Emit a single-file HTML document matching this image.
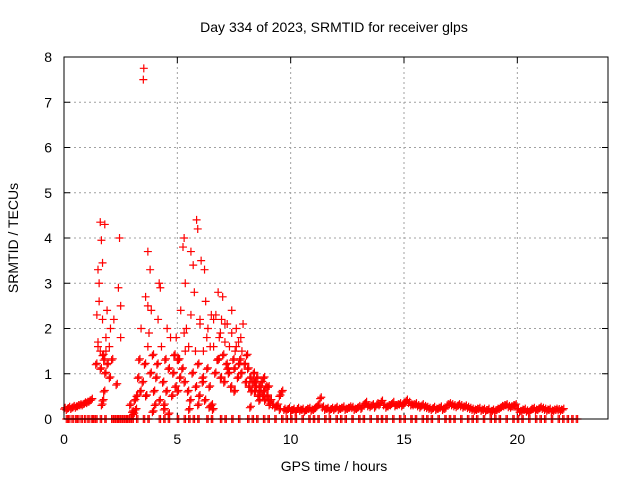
<!DOCTYPE html>
<html><head><meta charset="utf-8">
<style>
body{margin:0;background:#fff;}
svg{display:block;font-family:"Liberation Sans",sans-serif;}
</style></head>
<body>
<svg id="chart" width="640" height="480" viewBox="0 0 640 480">
<text x="334" y="32" font-size="14" text-anchor="middle">Day 334 of 2023, SRMTID for receiver glps</text>
<text x="334" y="471" font-size="14" text-anchor="middle">GPS time / hours</text>
<text transform="translate(18,238) rotate(-90)" font-size="14" text-anchor="middle">SRMTID / TECUs</text>
<g id="grid"></g>
<g id="ticks"></g>
<g id="marks"></g>
<rect x="64" y="57" width="544" height="362" fill="none" stroke="#000" stroke-width="1"/>
</svg>
<script>
const xTicks=[0,5,10,15,20];
const yTicks=[0,1,2,3,4,5,6,7,8];
const times=[0,0.1,0.2,0.3,0.4,0.5,0.6,0.7,0.8,0.9,1.0,1.1,1.2,
1.4,1.45,1.5,1.5,1.55,1.6,1.6,1.65,1.7,1.7,1.75,1.8,1.8,1.85,1.9,1.9,2.0,2.0,2.05,2.1,2.2,2.3,2.4,2.45,1.5,1.55,1.6,1.7,1.75,1.85,2.5,2.5,1.65,1.7,
2.9,3.0,3.05,3.1,3.15,3.2,3.25,3.3,3.35,3.4,3.45,3.5,3.52,3.55,3.6,3.6,3.7,3.7,3.75,3.8,3.8,3.85,3.9,3.95,4.0,4.05,4.1,4.15,4.2,4.25,4.3,4.35,4.4,4.45,4.5,4.55,4.6,3.6,3.7,3.9,4.2,4.4,4.6,
4.7,4.75,4.8,4.85,4.9,4.95,5.0,5.05,5.1,5.15,5.2,5.25,5.3,5.3,5.35,5.4,5.45,5.5,5.55,5.6,5.65,5.7,5.75,5.8,5.85,5.9,5.95,6.0,6.05,6.1,6.15,6.2,6.25,6.3,6.35,6.4,6.45,6.5,5.3,5.35,5.6,5.8,5.9,6.0,6.1,6.2,6.3,6.5,5.0,5.5,5.9,6.4,
6.55,6.6,6.65,6.7,6.75,6.8,6.85,6.9,6.95,7.0,7.05,7.1,7.15,7.2,7.25,7.3,7.35,7.4,7.45,7.5,7.55,7.6,7.65,7.7,7.75,7.8,7.85,7.9,7.95,8.0,6.8,6.9,7.0,7.2,7.4,7.6,7.8,6.6,7.1,7.5,7.7,
8.05,8.1,8.15,8.2,8.25,8.3,8.35,8.4,8.45,8.5,8.55,8.6,8.65,8.7,8.75,8.8,8.85,8.9,8.95,9.0,9.05,9.1,9.2,9.3,9.4,9.5,8.2,8.4,8.6,8.8,9.0,9.5,
9.6,9.7,9.8,9.9,10.0,10.1,10.2,10.3,10.4,10.5,10.6,10.7,10.8,10.9,11.0,11.1,11.2,11.3,11.4,11.5,11.6,11.7,11.8,11.9,12.0,12.1,12.2,12.3,12.4,12.5,12.6,12.7,12.8,12.9,13.0,13.1,13.2,13.3,13.4,13.5,13.6,13.7,13.8,13.9,14.0,14.1,14.2,14.3,14.4,14.5,14.6,14.7,14.8,14.9,15.0,15.1,15.2,15.3,15.4,15.5,15.6,15.7,15.8,15.9,16.0,16.1,16.2,16.3,16.4,16.5,16.6,16.7,16.8,16.9,17.0,17.1,17.2,17.3,17.4,17.5,17.6,17.7,17.8,17.9,18.0,18.1,18.2,18.3,18.4,18.5,18.6,18.7,18.8,18.9,19.0,19.1,19.2,19.3,19.4,19.5,19.6,19.7,19.8,19.9,20.0,20.1,20.2,20.3,20.4,20.5,20.6,20.7,20.8,20.9,21.0,21.1,21.2,21.3,21.4,21.5,21.6,21.7,21.8,21.9,22.0,22.1,22.2,22.3,22.4,22.5,22.6,22.7,22.8,22.9];
const values=[0.22,0.2,0.24,0.22,0.26,0.25,0.28,0.3,0.3,0.34,0.35,0.38,0.42,
1.2,2.3,3.3,1.6,2.6,4.35,1.5,3.95,1.4,2.2,1.3,4.3,1.0,1.8,2.4,1.2,1.6,0.9,2.0,1.3,2.2,0.75,2.9,4.0,1.7,3.0,1.1,3.45,0.6,1.5,2.5,1.8,0.3,0.4,
0.3,0.15,0.1,0.4,0.2,0.5,0.9,1.3,0.6,2.0,0.8,7.5,7.75,1.2,0.5,2.7,1.6,3.7,1.9,1.0,3.3,2.4,1.4,0.6,0.3,0.9,1.2,2.2,0.4,2.9,1.6,0.8,0.3,1.3,0.6,2.0,1.1,0.5,2.5,0.15,3.0,0.2,0.1,1.8,
0.5,1.0,1.4,0.7,1.8,0.6,1.3,0.9,2.4,1.1,3.8,0.8,4.0,1.5,2.0,0.6,1.6,0.4,2.3,1.0,3.4,2.8,0.7,4.4,1.2,0.5,2.1,3.5,0.9,1.5,0.4,2.6,1.1,2.0,0.7,1.6,0.3,1.9,3.0,3.7,1.5,4.2,2.2,0.8,3.3,1.8,2.3,1.3,0.2,0.3,0.25,0.2,
1.6,1.0,2.3,1.3,2.8,1.8,0.9,2.2,1.4,0.8,1.7,1.2,2.1,1.0,1.6,0.7,1.9,1.3,1.1,1.5,2.0,0.9,1.7,1.3,1.0,1.5,2.1,1.2,0.8,1.3,1.9,2.7,1.1,2.4,1.6,1.8,2.2,2.1,0.6,1.2,1.4,
1.1,0.7,0.9,0.6,0.8,1.0,0.6,0.7,0.9,0.5,0.7,0.6,0.8,0.5,0.6,0.4,0.7,0.5,0.4,0.3,0.4,0.3,0.25,0.3,0.2,0.25,0.8,0.4,0.9,0.7,0.5,0.6,
0.2,0.18,0.22,0.17,0.2,0.15,0.22,0.18,0.2,0.16,0.2,0.22,0.18,0.2,0.24,0.3,0.45,0.25,0.2,0.22,0.18,0.22,0.2,0.24,0.2,0.22,0.25,0.2,0.22,0.25,0.24,0.2,0.22,0.26,0.22,0.3,0.35,0.28,0.26,0.3,0.25,0.32,0.3,0.38,0.3,0.25,0.28,0.3,0.35,0.28,0.3,0.32,0.28,0.34,0.4,0.35,0.3,0.3,0.32,0.28,0.25,0.3,0.26,0.24,0.22,0.2,0.24,0.2,0.22,0.25,0.2,0.22,0.3,0.32,0.3,0.28,0.26,0.3,0.28,0.25,0.27,0.24,0.22,0.2,0.18,0.2,0.22,0.18,0.2,0.17,0.2,0.15,0.18,0.16,0.2,0.22,0.26,0.28,0.3,0.26,0.25,0.28,0.3,0.2,0.15,0.18,0.2,0.16,0.14,0.2,0.22,0.18,0.2,0.24,0.22,0.2,0.18,0.2,0.16,0.18,0.2,0.19,0.18,0.2];
const zeroTimes=[0.1,0.2,0.35,0.5,0.6,0.75,0.9,1.05,1.2,1.3,1.4,1.6,1.8,2.1,2.2,2.3,2.4,2.5,2.6,2.7,2.8,2.9,3.0,3.2,3.5,3.7,4.2,4.4,4.6,5.0,5.3,5.5,5.7,5.9,6.3,6.5,6.9,7.1,7.4,7.7,8.1,8.3,8.5,8.8,9.0,9.3,9.6,9.8,10.0,10.2,10.5,10.8,11.0,11.2,11.5,11.7,12.0,12.2,12.4,12.7,13.0,13.2,13.5,13.8,14.0,14.2,14.5,14.8,15.0,15.3,15.5,15.8,16.0,16.2,16.5,16.8,17.0,17.2,17.5,17.8,18.0,18.2,18.5,18.8,19.0,19.2,19.5,19.8,20.0,20.2,20.5,20.8,21.0,21.2,21.5,21.8,22.0,22.2,22.4,22.6];
const X=t=>64+t*(544/24);
const Y=v=>419-v*(362/8);
const NS="http://www.w3.org/2000/svg";
const grid=document.getElementById('grid'),ticks=document.getElementById('ticks'),marks=document.getElementById('marks');
function mk(tag,attrs,parent){const e=document.createElementNS(NS,tag);for(const k in attrs)e.setAttribute(k,attrs[k]);parent.appendChild(e);return e;}
xTicks.forEach(t=>{
  if(t>0){const g=mk('line',{x1:X(t),x2:X(t),y1:57,y2:419,stroke:'#a0a0a0','stroke-dasharray':'2,3'},grid);
  
  }
  mk('line',{x1:X(t),x2:X(t),y1:419,y2:413,stroke:'#000'},ticks);
  mk('line',{x1:X(t),x2:X(t),y1:57,y2:63,stroke:'#000'},ticks);
  const l=mk('text',{x:X(t),y:444,'font-size':14,'text-anchor':'middle'},ticks);l.textContent=t;
  
  
});
yTicks.forEach(v=>{
  if(v>0&&v<8){const g=mk('line',{x1:64,x2:608,y1:Y(v),y2:Y(v),stroke:'#a0a0a0','stroke-dasharray':'2,3'},grid);
  
  }
  mk('line',{x1:64,x2:70,y1:Y(v),y2:Y(v),stroke:'#000'},ticks);
  mk('line',{x1:602,x2:608,y1:Y(v),y2:Y(v),stroke:'#000'},ticks);
  const l=mk('text',{x:52,y:Y(v)+5,'font-size':14,'text-anchor':'end'},ticks);l.textContent=v;
  
  
});
function plus(t,v){
  const x=X(t),y=Y(v);
  const p=mk('path',{d:`M${x-4} ${y}H${x+4}M${x} ${y-4}V${y+4}`,stroke:'#ff0000','stroke-width':1.2,fill:'none'},marks);
  
  
}
times.forEach((t,i)=>{plus(t,values[i]);if(values[i]<1.5)plus(t+0.05,values[i]+0.03);});
zeroTimes.forEach(t=>{plus(t,0);plus(t+0.06,0);});
</script>
</body></html>
